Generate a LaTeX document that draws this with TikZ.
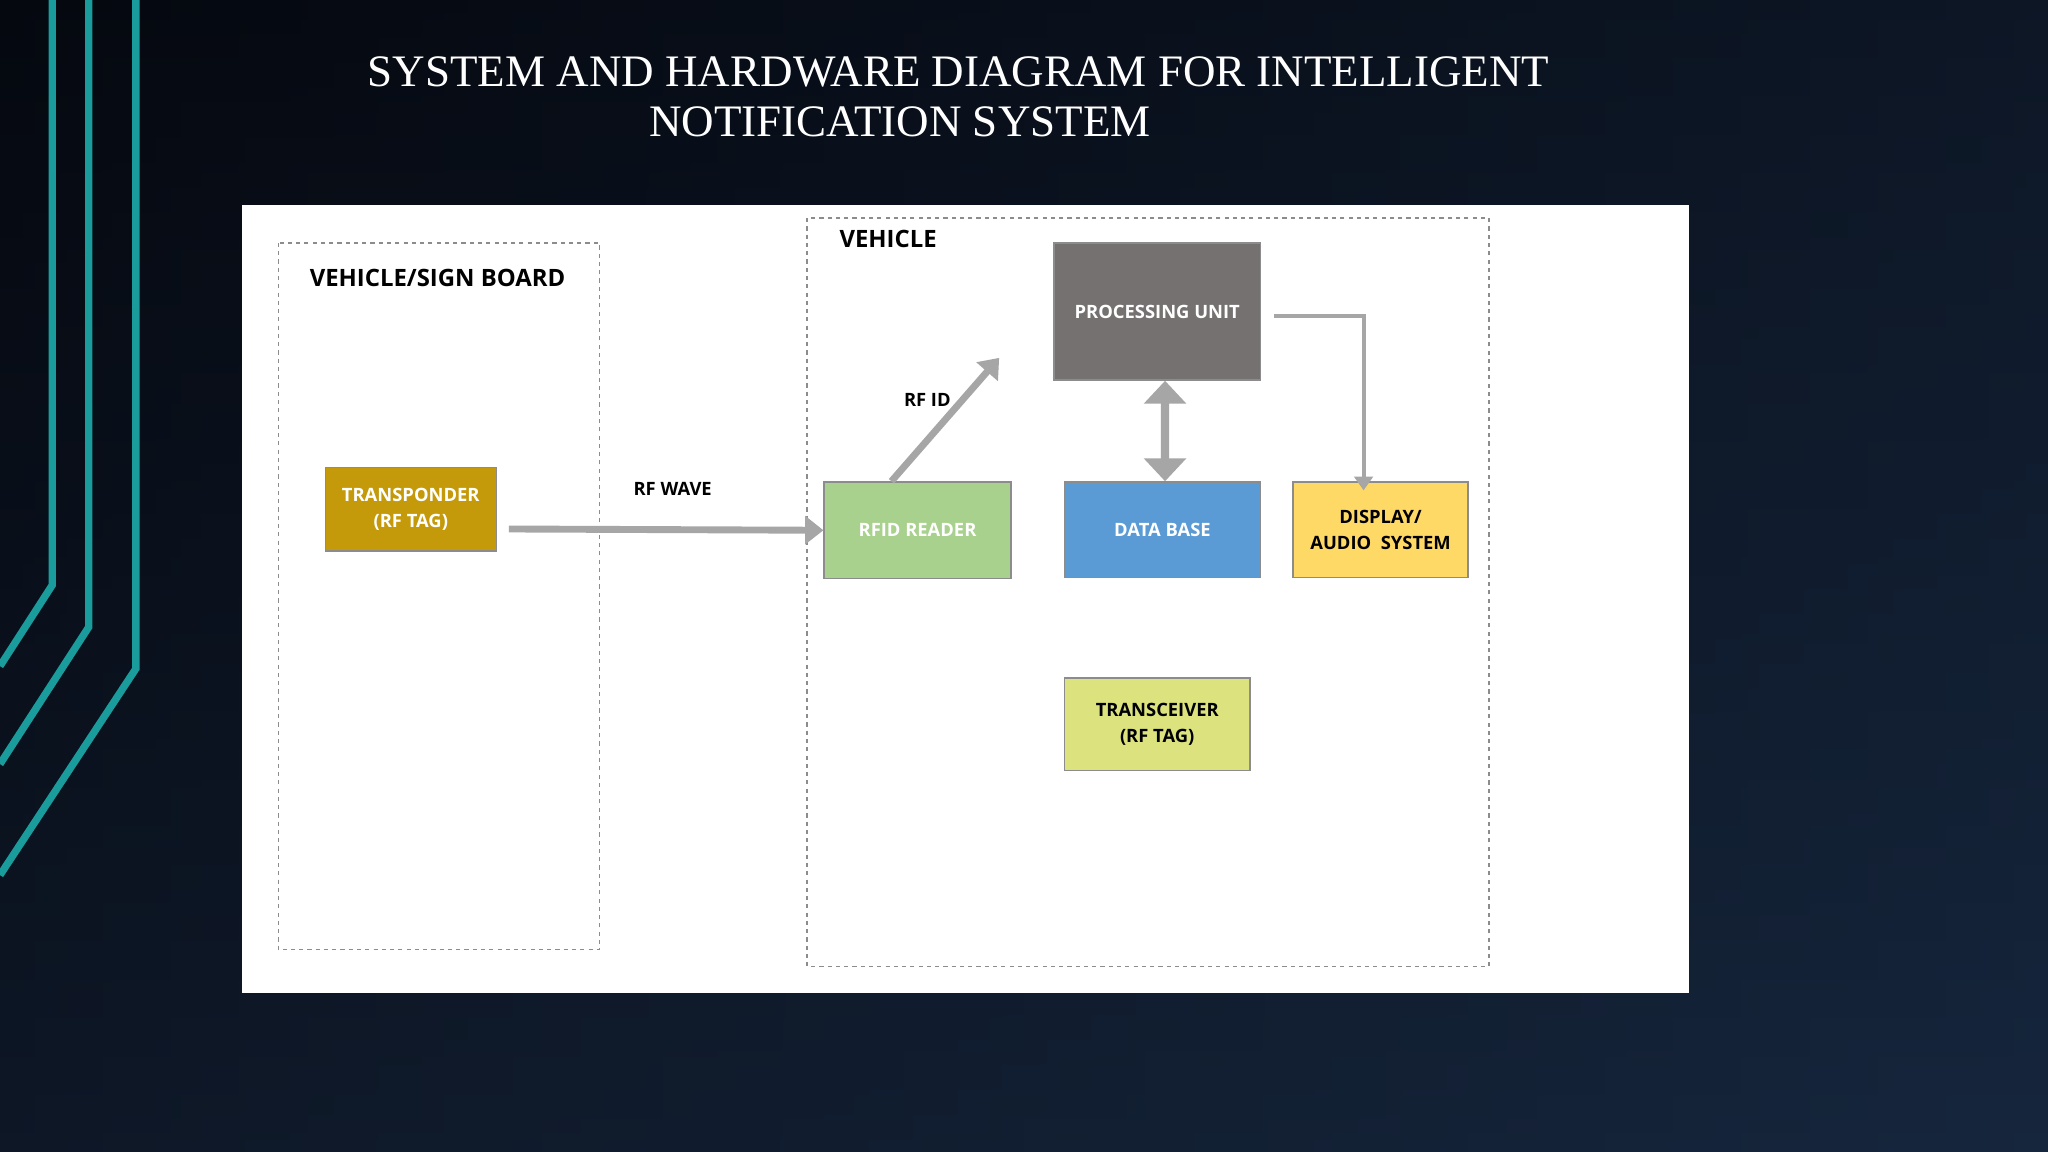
\documentclass[tikz,border=0pt]{standalone}
\usepackage{fontspec}
\setmainfont{Liberation Serif}
\newfontfamily\lab{Open Sans}
\usetikzlibrary{arrows.meta,shapes.arrows}
\definecolor{bgA}{HTML}{05080F}
\definecolor{bgB}{HTML}{16263D}
\definecolor{teal}{HTML}{1A9C9C}
\definecolor{arr}{HTML}{A6A6A6}
\definecolor{gold}{HTML}{C49A0A}
\definecolor{green}{HTML}{A9D18E}
\definecolor{gray}{HTML}{767171}
\definecolor{blue}{HTML}{5B9BD5}
\definecolor{yel}{HTML}{FFD966}
\definecolor{lime}{HTML}{DCE27E}
\begin{document}
\begin{tikzpicture}[x=0.01cm,y=-0.01cm,
 box/.style 2 args={draw=black!45,line width=0.3pt,minimum width=#1*0.01cm,minimum height=#2*0.01cm,inner sep=0pt,align=center,font=\lab\bfseries\fontsize{4.0}{5.6}\selectfont},
 frame/.style={draw=black!45,line width=0.3pt,dash pattern=on 0.9pt off 0.9pt},
 ttl/.style={font=\lab\bfseries\fontsize{5.2}{7}\selectfont},
 lbl/.style={font=\lab\bfseries\fontsize{4.0}{6}\selectfont},
 ar/.style={arr,line width=1.5pt,-{Triangle[length=4pt,width=6pt]}}]
\useasboundingbox (0,0) rectangle (1568,882);
\shade[left color=bgA,right color=bgB] (0,0) rectangle (1568,882);
\shade[top color=bgA,bottom color=bgB,opacity=0.5] (0,0) rectangle (1568,882);
\draw[teal,line width=1.6pt] (40,0) -- (40,448) -- (0,510);
\draw[teal,line width=1.6pt] (68,0) -- (68,480) -- (0,585);
\draw[teal,line width=1.6pt] (104,0) -- (104,512) -- (0,670);
\node[white,font=\fontsize{9.8}{11}\selectfont] (t1) at (734,55) {SYSTEM AND HARDWARE DIAGRAM FOR INTELLIGENT};
\node[white,font=\fontsize{9.8}{11}\selectfont] (t2) at (689,93) {NOTIFICATION SYSTEM};
\fill[white] (185,157) rectangle (1293,760);
\draw[frame] (213,186) rectangle (459,727);
\draw[frame] (618,167) rectangle (1140,740);
\node[ttl] (l1) at (335,213) {VEHICLE/SIGN BOARD};
\node[ttl] (l2) at (680,183) {VEHICLE};
\node[box={131}{64},fill=gold,text=white] (tr) at (314.5,390) {TRANSPONDER\\(RF TAG)};
\node[box={143}{74},fill=green,text=white] (rf) at (702.5,406) {RFID READER};
\node[box={158}{105},fill=gray,text=white] (pu) at (886,238.5) {PROCESSING UNIT};
\node[box={150}{73},fill=blue,text=white] (db) at (890,405.5) {DATA BASE};
\node[box={134}{73},fill=yel,text=black] (ds) at (1057,405.5) {DISPLAY/\\AUDIO\ \ SYSTEM};
\node[box={142}{71},fill=lime,text=black] (tc) at (886,554.5) {TRANSCEIVER\\(RF TAG)};
\draw[ar] ([xshift=0.09cm,yshift=-0.15cm]tr.east) -- (rf.west);
\node[lbl] (w) at (515,374) {RF WAVE};
\coordinate (rfe) at (765,274);
\draw[ar] ([xshift=-0.2cm]rf.north) -- (rfe);
\node[lbl] (id) at (710,306) {RF ID};
\draw[arr,line width=1.8pt,{Triangle[length=5pt,width=9pt]}-{Triangle[length=5pt,width=9pt]}] ([xshift=0.06cm]pu.south) -- ([xshift=0.02cm]db.north);
\draw[arr,line width=0.9pt,-{Triangle[length=3pt,width=4pt]}] ([xshift=0.1cm,yshift=-0.035cm]pu.east) -| ([xshift=-0.13cm,yshift=-0.07cm]ds.north);
\end{tikzpicture}
\end{document}
